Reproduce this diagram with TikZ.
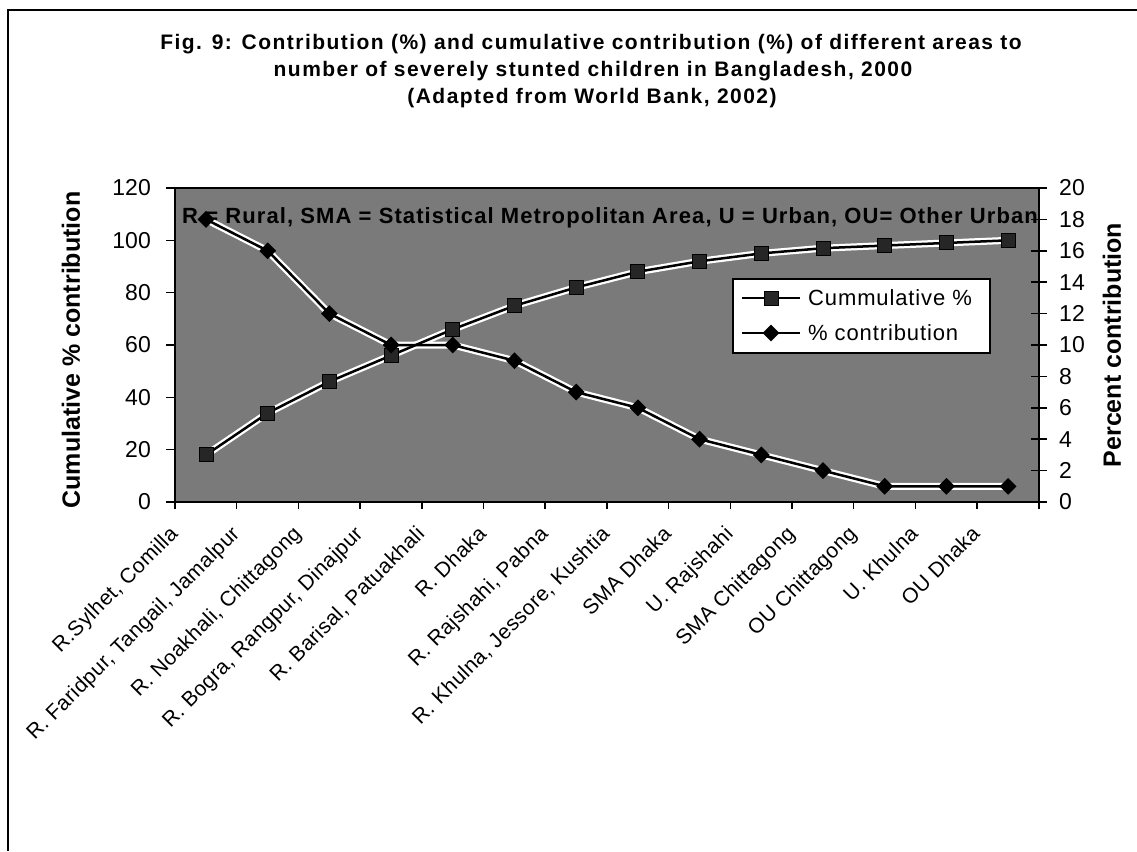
\documentclass[tikz,border=0pt]{standalone}
\usepackage{fontspec}
\setmainfont{Liberation Sans}
\usetikzlibrary{shapes.geometric}
\tikzset{
  ticklab/.style={font=\fontsize{23}{23}\selectfont, inner sep=0pt},
  axtitle/.style={font=\bfseries\fontsize{25}{25}\selectfont, inner sep=0pt},
  catlab/.style={font=\fontsize{21}{21}\selectfont\addfontfeatures{LetterSpace=2}, rotate=45, anchor=base east, inner sep=0pt},
  titlelab/.style={font=\bfseries\fontsize{21}{21}\selectfont\addfontfeatures{LetterSpace=7}, anchor=base, inner sep=0pt},
  sqmark/.style={rectangle, draw=black, fill=black!85, line width=1pt, minimum size=14pt, inner sep=0pt},
  dmmark/.style={diamond, fill=black, minimum size=17pt, inner sep=0pt},
  halo/.style={draw=white, line width=7pt},
  series/.style={draw=black, line width=2.5pt},
  legendbox/.style={draw=black, fill=white, line width=1.5pt},
  legtext/.style={font=\fontsize{22}{22}\selectfont\addfontfeatures{LetterSpace=4}, anchor=west, inner sep=0pt}
}
\begin{document}
\begin{tikzpicture}[x=1pt,y=-1pt]
\useasboundingbox (0,0) rectangle (1137,851);
% outer frame
\draw[line width=2pt] (1137,10) -- (8,10) -- (8,851);
% title
\node[titlelab] (t1) at (591,50) {Fig. 9: Contribution (\%) and cumulative contribution (\%) of different areas to};
\node[titlelab] (t2) at (593,77) {number of severely stunted children in Bangladesh, 2000};
\node[titlelab] (t3) at (592,103) {(Adapted from World Bank, 2002)};
% plot area
\fill[black!52] (175,188) rectangle (1039,502);
\draw[line width=2pt] (175,188) rectangle (1039,502);
% left ticks
\foreach \v in {0,20,...,120}{
  \draw[line width=1.5pt] (166,{502-\v*2.61667}) -- (175,{502-\v*2.61667});
  \node[ticklab, anchor=east] (l\v) at (151,{502-\v*2.61667}) {\v};
}
% right ticks
\foreach \v in {0,2,...,20}{
  \draw[line width=1.5pt] (1031,{502-\v*15.7}) -- (1047,{502-\v*15.7});
  \node[ticklab, anchor=west] (r\v) at (1059,{502-\v*15.7}) {\v};
}
% bottom ticks
\foreach \k in {0,...,14}{
  \draw[line width=1.5pt] ({175+61.7*\k},502) -- ({175+61.7*\k},509);
}
% axis titles
\node[axtitle, rotate=90] (ylt) at (71,350) {Cumulative \% contribution};
\node[axtitle, rotate=90] (yrt) at (1112,345) {Percent contribution};
% inner note
\node[font=\bfseries\fontsize{22}{22}\selectfont\addfontfeatures{LetterSpace=5}, anchor=base west, inner sep=0pt] (note) at (182,223)
  {R = Rural, SMA = Statistical Metropolitan Area, U = Urban, OU= Other Urban};
% category labels
\foreach \lab [count=\i from 0] in {{R.Sylhet, Comilla},{R. Faridpur, Tangail, Jamalpur},{R. Noakhali, Chittagong},{R. Bogra, Rangpur, Dinajpur},{R. Barisal, Patuakhali},{R. Dhaka},{R. Rajshahi, Pabna},{R. Khulna, Jessore, Kushtia},{SMA Dhaka},{U. Rajshahi},{SMA Chittagong},{OU Chittagong},{U. Khulna},{OU Dhaka}}{
  \node[catlab] (cat\i) at ({206+61.7*\i-27},535) {\lab};
}
% markers
\foreach \v [count=\i from 0] in {18,34,46,56,66,75,82,88,92,95,97,98,99,100}{
  \coordinate (cp\i) at ({206+61.7*\i},{502-\v*2.61667});
}
\foreach \v [count=\i from 0] in {18,16,12,10,10,9,7,6,4,3,2,1,1,1}{
  \coordinate (dp\i) at ({206+61.7*\i},{502-\v*15.7});
}
\draw[halo] (cp0) \foreach \i in {1,...,13}{ -- (cp\i)};
\draw[halo] (dp0) \foreach \i in {1,...,13}{ -- (dp\i)};
\draw[series] (cp0) \foreach \i in {1,...,13}{ -- (cp\i)};
\draw[series] (dp0) \foreach \i in {1,...,13}{ -- (dp\i)};
\foreach \i in {0,...,13}{
  \node[sqmark] (c\i) at (cp\i) {};
  \node[dmmark] (d\i) at (dp\i) {};
}
% legend
\node[legendbox, minimum width=257pt, minimum height=74pt, anchor=north west] (leg) at (732,278) {};
\coordinate (la1) at (742,298);
\coordinate (lb1) at (800,298);
\coordinate (la2) at (742,333);
\coordinate (lb2) at (800,333);
\draw[line width=2pt] (la1) -- (lb1);
\draw[line width=2pt] (la2) -- (lb2);
\node[sqmark] (lsq) at (771,298) {};
\node[dmmark] (ldm) at (771,333) {};
\node[legtext] (lt1) at (808,298) {Cummulative \%};
\node[legtext] (lt2) at (808,333) {\% contribution};
\end{tikzpicture}
\end{document}
